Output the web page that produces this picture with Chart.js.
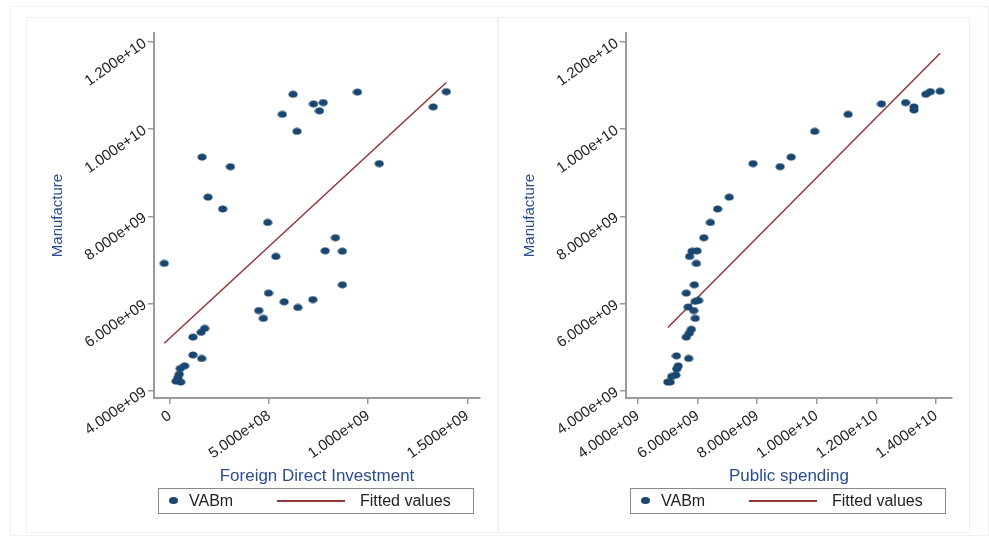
<!DOCTYPE html>
<html>
<head>
<meta charset="utf-8">
<script src="https://cdn.jsdelivr.net/npm/chart.js@4.4.1/dist/chart.umd.min.js"></script>
<style>
  body { margin: 0; background: #fff; font-family: "Liberation Sans", Arial, sans-serif; }
  #frame { position: absolute; left: 10px; top: 6px; width: 977px; height: 528px; border: 1px solid #edf2f2; }
  .panel { position: absolute; top: 17px; width: 472px; height: 516px; }
  .panel .edge { position: absolute; left: 0; top: 0; right: 0; bottom: 0; border: 1px solid #edf2f2; }
  #panel-left { left: 26px; }
  #panel-right { left: 498px; }
  .panel canvas { position: absolute; left: 0; top: 0; }
  .legend { position: absolute; left: 132px; top: 471px; width: 316px; height: 26px;
            border: 1.5px solid #8a8a8a; box-sizing: border-box; font-size: 16px; color: #222; }
  .legend span { position: absolute; top: 3px; white-space: nowrap; }
  .legend .dot { position: absolute; top: 8px; width: 9px; height: 7px; border-radius: 50%; }
  .legend .line { position: absolute; top: 11px; height: 1.5px; }
</style>
</head>
<body>
<div id="frame"></div>
<div class="panel" id="panel-left"><div class="edge"></div><canvas id="chart-fdi" width="472" height="516"></canvas><div class="legend" id="legend-fdi"></div></div>
<div class="panel" id="panel-right"><div class="edge"></div><canvas id="chart-spend" width="472" height="516"></canvas><div class="legend" id="legend-spend"></div></div>
<script>
// Manufacture (VABm) against Foreign Direct Investment
const fdiX = [-0.29e8, 1.62e8, 3.05e8, 1.92e8, 2.66e8, 4.93e8, 6.21e8, 5.67e8, 6.41e8, 7.24e8,
              7.73e8, 7.54e8, 9.46e8, 10.56e8, 13.28e8, 13.94e8, 8.35e8, 7.83e8, 8.70e8, 5.34e8,
              8.70e8, 4.97e8, 5.76e8, 6.45e8, 7.21e8, 4.48e8, 4.71e8, 1.16e8, 1.57e8, 1.75e8,
              1.16e8, 1.60e8, 0.74e8, 0.52e8, 0.47e8, 0.30e8, 0.54e8, 0.40e8];
const fdiY = [6.92e9, 9.36e9, 9.14e9, 8.44e9, 8.17e9, 7.86e9, 10.80e9, 10.34e9, 9.95e9, 10.58e9,
              10.61e9, 10.42e9, 10.85e9, 9.21e9, 10.51e9, 10.86e9, 7.51e9, 7.21e9, 7.20e9, 7.08e9,
              6.43e9, 6.24e9, 6.04e9, 5.91e9, 6.09e9, 5.84e9, 5.66e9, 5.23e9, 5.34e9, 5.43e9,
              4.82e9, 4.74e9, 4.57e9, 4.51e9, 4.38e9, 4.22e9, 4.20e9, 4.30e9];
const fdiFitX = [-0.29e8, 13.94e8];
const fdiFitY = [5.09e9, 11.07e9];

// Manufacture (VABm) against Public spending
const spendX = [14.14e9, 13.81e9, 13.66e9, 13.26e9, 13.26e9, 12.98e9, 12.17e9, 11.05e9, 9.93e9, 9.14e9,
                8.77e9, 7.86e9, 7.06e9, 6.67e9, 6.43e9, 6.21e9, 5.98e9, 5.81e9, 5.73e9, 5.96e9,
                5.89e9, 5.62e9, 6.03e9, 5.92e9, 5.68e9, 5.87e9, 5.92e9, 5.79e9, 5.72e9, 5.62e9,
                5.29e9, 5.70e9, 5.35e9, 5.30e9, 5.27e9, 5.08e9, 5.00e9, 5.13e9];
const spendY = [10.87e9, 10.86e9, 10.80e9, 10.51e9, 10.44e9, 10.61e9, 10.58e9, 10.34e9, 9.95e9, 9.36e9,
                9.14e9, 9.21e9, 8.44e9, 8.17e9, 7.86e9, 7.51e9, 7.21e9, 7.20e9, 7.08e9, 6.92e9,
                6.43e9, 6.24e9, 6.07e9, 6.05e9, 5.92e9, 5.84e9, 5.66e9, 5.41e9, 5.32e9, 5.23e9,
                4.80e9, 4.74e9, 4.57e9, 4.50e9, 4.36e9, 4.20e9, 4.20e9, 4.33e9];
const spendFitX = [5.00e9, 14.14e9];
const spendFitY = [5.45e9, 11.74e9];

// tick labels
const yTicks = [4e9, 6e9, 8e9, 1e10, 1.2e10];
const yTickLabels = ['4.000e+09', '6.000e+09', '8.000e+09', '1.000e+10', '1.200e+10'];
const fdiTicks = [0, 5e8, 1e9, 1.5e9];
const fdiTickLabels = ['0', '5.000e+08', '1.000e+09', '1.500e+09'];
const spendTicks = [4e9, 6e9, 8e9, 1e10, 1.2e10, 1.4e10];
const spendTickLabels = ['4.000e+09', '6.000e+09', '8.000e+09', '1.000e+10', '1.200e+10', '1.400e+10'];

const NAVY = '#1a476f';
const MAROON = '#90353b';
const TITLE_BLUE = '#2a4d8f';
const AXIS_GREY = '#9a9a9a';

function zip(xs, ys) {
    return xs.map((x, i) => ({ x: x, y: ys[i] }));
}

// slightly flattened dot, like the stata markers in the picture
function makeDot(color) {
    const c = document.createElement('canvas');
    c.width = 10; c.height = 8;
    const g = c.getContext('2d');
    g.fillStyle = color;
    g.beginPath();
    g.ellipse(5, 4, 4.6, 3.6, 0, 0, Math.PI * 2);
    g.fill();
    return c;
}

function buildLegend(el, chart) {
    const ds = chart.data.datasets;
    el.innerHTML =
        '<div class="dot" style="left:10px;background:' + ds[0].backgroundColor + '"></div>' +
        '<span style="left:30px">' + ds[0].label + '</span>' +
        '<div class="line" style="left:118px;width:68px;background:' + ds[1].borderColor + '"></div>' +
        '<span style="left:201px">' + ds[1].label + '</span>';
}

function makePanel(canvasId, legendId, xs, ys, fitX, fitY, xMin, xMax, xTicks, xLabels, xTitle) {
    const dot = makeDot(NAVY);
    const chart = new Chart(document.getElementById(canvasId), {
        data: {
            datasets: [{
                type: 'scatter',
                label: 'VABm',
                data: zip(xs, ys),
                backgroundColor: NAVY,
                borderWidth: 0,
                pointStyle: dot,
                pointRadius: 4,
                order: 1
            }, {
                type: 'line',
                label: 'Fitted values',
                data: zip(fitX, fitY),
                borderColor: MAROON,
                borderWidth: 1.5,
                pointRadius: 0,
                fill: false,
                order: 2
            }]
        },
        options: {
            responsive: false,
            animation: false,
            devicePixelRatio: 1,
            layout: { padding: { top: 16, right: 18, bottom: 45, left: 0 } },
            plugins: { legend: { display: false }, tooltip: { enabled: false } },
            scales: {
                x: {
                    type: 'linear',
                    min: xMin, max: xMax,
                    afterBuildTicks: s => { s.ticks = xTicks.map(v => ({ value: v })); },
                    afterFit: s => { s.height = 90; s.paddingLeft = 0; s.paddingRight = 0; },
                    ticks: {
                        callback: (v, i) => xLabels[i],
                        minRotation: 35, maxRotation: 35,
                        autoSkip: false,
                        color: '#222',
                        font: { family: '"Liberation Sans", Arial, sans-serif', size: 15 }
                    },
                    grid: { drawOnChartArea: false, drawTicks: true, tickLength: 6, color: AXIS_GREY, lineWidth: 1.5 },
                    border: { color: AXIS_GREY, width: 2 },
                    title: {
                        display: true, text: xTitle, color: TITLE_BLUE,
                        font: { family: '"Liberation Sans", Arial, sans-serif', size: 17 },
                        padding: { top: 0, bottom: 1 }
                    }
                },
                y: {
                    type: 'linear',
                    min: 3.833e9, max: 1.2206e10,
                    afterBuildTicks: s => { s.ticks = yTicks.map(v => ({ value: v })); },
                    afterFit: s => { s.width = 128; s.paddingTop = 0; s.paddingBottom = 0; },
                    ticks: {
                        callback: (v, i) => yTickLabels[i],
                        minRotation: 35, maxRotation: 35,
                        color: '#222',
                        font: { family: '"Liberation Sans", Arial, sans-serif', size: 15 }
                    },
                    grid: { drawOnChartArea: false, drawTicks: true, tickLength: 6, color: AXIS_GREY, lineWidth: 1.5 },
                    border: { color: AXIS_GREY, width: 2 },
                    title: {
                        display: true, text: 'Manufacture', color: TITLE_BLUE,
                        font: { family: '"Liberation Sans", Arial, sans-serif', size: 15 },
                        padding: { top: 23, bottom: 0 }
                    }
                }
            }
        }
    });
    buildLegend(document.getElementById(legendId), chart);
    return chart;
}

makePanel('chart-fdi', 'legend-fdi', fdiX, fdiY, fdiFitX, fdiFitY,
          -0.807e8, 1.5641e9, fdiTicks, fdiTickLabels, 'Foreign Direct Investment');
makePanel('chart-spend', 'legend-spend', spendX, spendY, spendFitX, spendFitY,
          3.597e9, 1.4537e10, spendTicks, spendTickLabels, 'Public spending');
</script>
</body>
</html>
